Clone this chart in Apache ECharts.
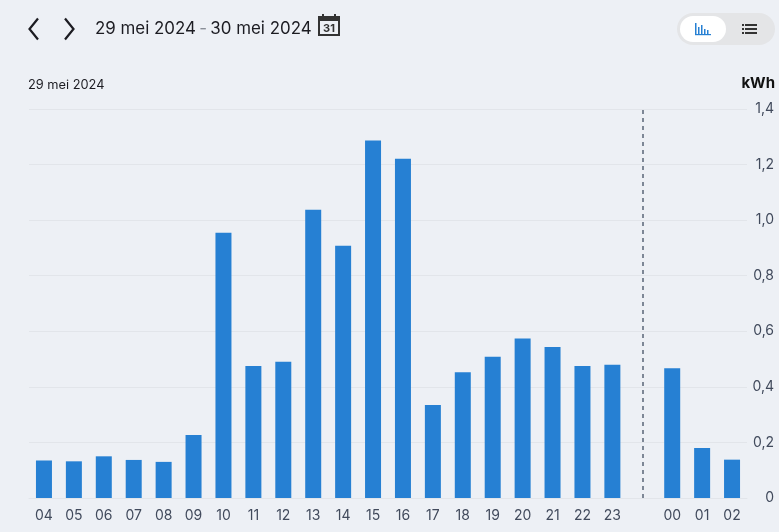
<!DOCTYPE html>
<html><head><meta charset="utf-8">
<style>html,body{margin:0;padding:0;background:#edf0f5}#c{width:779px;height:532px}</style>
<script src="https://cdn.jsdelivr.net/npm/echarts@6/dist/echarts.min.js"></script>
</head><body><div id="c"></div>
<script>
const hours = ['04','05','06','07','08','09','10','11','12','13','14','15','16','17','18','19','20','21','22','23',' ','00','01','02'];
const kwh = [0.135,0.132,0.15,0.137,0.13,0.227,0.955,0.475,0.49,1.037,0.908,1.287,1.221,0.335,0.453,0.508,0.574,0.543,0.475,0.48,null,0.467,0.18,0.138];
const dividerCategory = ' ';
const rangeStart = '29 mei 2024', rangeEnd = '30 mei 2024', dayLabel = '29 mei 2024', unit = 'kWh';
const font = 'Inter';
const dark = '#1c1c22';
const chart = echarts.init(document.getElementById('c'), null, {renderer:'canvas'});
const line = (pts, color, w) => ({type:'polyline', shape:{points:pts}, style:{stroke:color, lineWidth:w, fill:null}});
const rect = (x,y,width,height,r,fill) => ({type:'rect', shape:{x,y,width,height,r}, style:{fill}});
chart.setOption({
  animation:false,
  backgroundColor:'#edf0f5',
  textStyle:{fontFamily:font},
  grid:{left:29,right:32,top:109,bottom:34,containLabel:false},
  xAxis:{type:'category',data:hours,
    axisLine:{lineStyle:{color:'#e2e5ea',width:1}},axisTick:{show:false},
    axisLabel:{color:'#414a5c',fontSize:14,fontFamily:font,margin:11,interval:0}},
  yAxis:{type:'value',position:'right',min:0,max:1.4,interval:0.2,
    axisLine:{show:false},axisTick:{show:false},
    splitLine:{lineStyle:{color:'#e2e5ea',width:1}},
    axisLabel:{color:'#414a5c',fontSize:14,fontFamily:font,align:'right',margin:27,
      formatter:v=>v===0?'0':v.toFixed(1).replace('.',',')}},
  series:[{type:'bar',data:kwh,barWidth:16,itemStyle:{color:'#2680d3'},
    markLine:{silent:true,symbol:'none',label:{show:false},
      lineStyle:{color:'#7d8796',type:[4,4],width:2},
      data:[{xAxis:dividerCategory}]}}],
  graphic:[
    line([[38,18.5],[29.5,29],[38,39.5]],dark,2.2),
    line([[65,18.5],[73.5,29],[65,39.5]],dark,2.2),
    {type:'text',x:95,y:29,style:{
      text:`{a|${rangeStart}} {b|-} {a|${rangeEnd}}`,verticalAlign:'middle',
      rich:{a:{fontFamily:font,fontSize:16.9,fill:dark,fontWeight:400},b:{fontFamily:font,fontSize:16.9,fill:'#8a8f98'}}}},
    {type:'group',children:[
      rect(318,17,22,4,0,'#333'),
      {type:'rect',shape:{x:319,y:17,width:20,height:18},style:{fill:'none',stroke:'#333',lineWidth:2}},
      rect(322,14,2,3,0,'#333'), rect(334,14,2,3,0,'#333'),
      {type:'text',x:329,y:28.5,style:{text:'31',fontFamily:font,fontSize:11,fontWeight:700,fill:'#333',align:'center',verticalAlign:'middle'}}
    ]},
    {type:'text',x:28,y:85,style:{text:dayLabel,fontFamily:font,fontSize:12.8,fill:dark,verticalAlign:'middle'}},
    {type:'text',x:775,y:83,style:{text:unit,fontFamily:font,fontSize:15,fontWeight:700,fill:'#111',align:'right',verticalAlign:'middle'}},
    rect(677,13,98,32,16,'#e4e5e7'),
    rect(680,16,46,26,13,'#ffffff'),
    {type:'group',children:[
      rect(695,23,1.5,11,0,'#2680d3'), rect(698,27,1.5,7,0,'#2680d3'), rect(701,25,1.5,9,0,'#2680d3'),
      rect(704,29,1.5,5,0,'#2680d3'), rect(707,30,1.5,4,0,'#2680d3'), rect(695,34,16,1.2,0,'#2680d3')
    ]},
    {type:'group',children:[
      rect(742,24,2,2,0,'#333'), rect(745,24,12,2,0,'#333'),
      rect(742,28,2,2,0,'#333'), rect(745,28,12,2,0,'#333'),
      rect(742,32,2,2,0,'#333'), rect(745,32,12,2,0,'#333')
    ]}
  ]
});
</script></body></html>
